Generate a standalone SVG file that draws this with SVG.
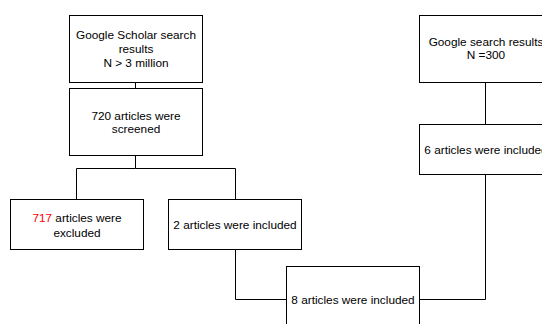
<svg xmlns="http://www.w3.org/2000/svg" width="542" height="324" viewBox="0 0 542 324">
<style>
.box{fill:#fff;stroke:#000;stroke-width:1}
.ln{fill:none;stroke:#000;stroke-width:1}
text{font-family:"Liberation Sans",Arial,sans-serif;font-size:11.8px;fill:#000;text-anchor:middle}
.red{fill:#ff0000}
</style>
<rect width="542" height="324" fill="#fff"/>
<g id="connectors">
<path class="ln" d="M135.5 82V88"/>
<path class="ln" d="M135.5 155V168.5H76.5V199M135.5 168.5H235.5V199"/>
<path class="ln" d="M235.5 249V299.5H286"/>
<path class="ln" d="M419 299.5H485.5V174"/>
<path class="ln" d="M485.5 82V124"/>
</g>
<g id="scholar">
<rect class="box" x="69.5" y="15.5" width="133" height="67"/>
<text x="136" y="38.5">Google Scholar search</text>
<text x="136" y="52.5">results</text>
<text x="136" y="66.5">N &gt; 3 million</text>
</g>
<g id="screened">
<rect class="box" x="69.5" y="88.5" width="133" height="67"/>
<text x="136" y="119.5">720 articles were</text>
<text x="136" y="133">screened</text>
</g>
<g id="excluded">
<rect class="box" x="10.5" y="199.5" width="133" height="50"/>
<text x="77" y="221.5"><tspan class="red">717</tspan> articles were</text>
<text x="77" y="236.5">excluded</text>
</g>
<g id="included2">
<rect class="box" x="168.5" y="199.5" width="133" height="50"/>
<text x="235" y="228.5">2 articles were included</text>
</g>
<g id="included8">
<rect class="box" x="286.5" y="266.5" width="133" height="67"/>
<text x="353" y="303.5">8 articles were included</text>
</g>
<g id="google">
<rect class="box" x="419.5" y="15.5" width="133" height="67"/>
<text x="486" y="45.5">Google search results</text>
<text x="486" y="59">N =300</text>
</g>
<g id="included6">
<rect class="box" x="419.5" y="124.5" width="133" height="50"/>
<text x="486" y="153.5">6 articles were included</text>
</g>
</svg>
